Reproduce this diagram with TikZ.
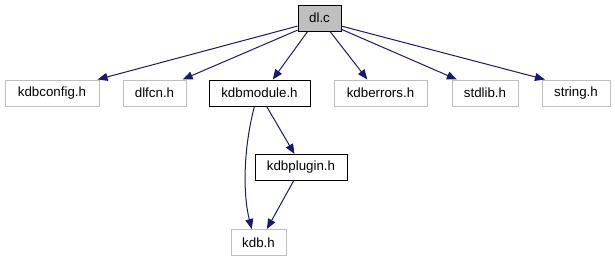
\documentclass[tikz,border=0pt]{standalone}
\usepackage{fontspec}
\setmainfont{Liberation Sans}
\usetikzlibrary{arrows.meta,calc}
\definecolor{edgeblue}{HTML}{191970}
\definecolor{boxgray}{HTML}{BFBFBF}
\begin{document}
\begin{tikzpicture}[x=0.75pt,y=-0.75pt,
  hdr/.style={draw=boxgray,line width=0.75pt,fill=white,rectangle,
    minimum height=19.5pt,inner sep=0pt,font=\fontsize{10pt}{12pt}\selectfont},
  w/.style={minimum width=#1*0.75pt},
  localhdr/.style={hdr,draw=black},
  rootfile/.style={hdr,draw=black,fill=boxgray},
  dep/.style={draw=edgeblue,line width=0.75pt,
    -{Triangle[length=7.5pt,width=6pt]}}]
\useasboundingbox (0,0) rectangle (615,261);

% files
\node[rootfile,w=43] (dl) at (319.5,18) {dl.c};
\node[hdr,w=94] (kdbconfig) at (52,93) {kdbconfig.h};
\node[hdr,w=63] (dlfcn) at (154.5,93) {dlfcn.h};
\node[localhdr,w=101] (kdbmodule) at (259.5,93) {kdbmodule.h};
\node[hdr,w=93] (kdberrors) at (380.5,93) {kdberrors.h};
\node[hdr,w=66] (stdlib) at (485,93) {stdlib.h};
\node[hdr,w=68] (string) at (576,93) {string.h};
\node[localhdr,w=92] (kdbplugin) at (301,167.5) {kdbplugin.h};
\node[hdr,w=55] (kdb) at (258.5,242.5) {kdb.h};

% include relations
\draw[dep] ($(dl.north west)!0.8!(dl.south west)$) -- ($(kdbconfig.north west)!0.98!(kdbconfig.north east)$);
\draw[dep] ($(dl.north west)!0.95!(dl.south west)$) -- ($(dlfcn.north west)!0.94!(dlfcn.north east)$);
\draw[dep] ($(dl.south west)!0.23!(dl.south east)$) -- ($(kdbmodule.north west)!0.63!(kdbmodule.north east)$);
\draw[dep] ($(dl.south west)!0.74!(dl.south east)$) -- ($(kdberrors.north west)!0.36!(kdberrors.north east)$);
\draw[dep] ($(dl.north east)!0.92!(dl.south east)$) -- ($(stdlib.north west)!0.08!(stdlib.north east)$);
\draw[dep] ($(dl.north east)!0.8!(dl.south east)$) -- ($(string.north west)!0.05!(string.north east)$);
\draw[dep] ($(kdbmodule.south west)!0.57!(kdbmodule.south east)$) -- ($(kdbplugin.north west)!0.43!(kdbplugin.north east)$);
\draw[dep] ($(kdbmodule.south west)!0.45!(kdbmodule.south east)$)
  .. controls (243,150) and (243,195) .. ($(kdb.north west)!0.38!(kdb.north east)$);
\draw[dep] ($(kdbplugin.south west)!0.42!(kdbplugin.south east)$) -- ($(kdb.north west)!0.65!(kdb.north east)$);
\end{tikzpicture}
\end{document}
